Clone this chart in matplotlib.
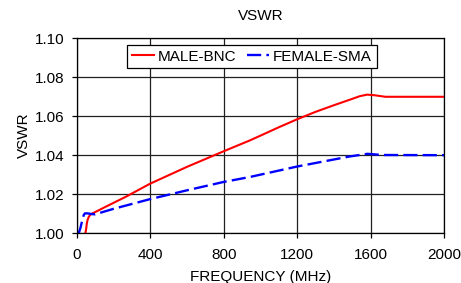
import matplotlib
matplotlib.use("Agg")
import matplotlib.pyplot as plt

plt.rcParams['font.family'] = ['Liberation Sans', 'DejaVu Sans']

bnc_x = [48, 52, 56, 60, 66, 74, 85, 100, 150, 272, 400, 600, 800, 941, 1000, 1100, 1200, 1300, 1400, 1483, 1540, 1580, 1620, 1680, 2000]
bnc_y = [1.000, 1.002, 1.005, 1.0068, 1.0083, 1.0094, 1.0101, 1.0108, 1.0132, 1.0189, 1.0254, 1.0340, 1.0420, 1.0475, 1.0500, 1.0543, 1.0584, 1.0622, 1.0656, 1.0683, 1.0702, 1.0710, 1.0707, 1.0699, 1.0699]
sma_x = [0, 12, 22, 32, 40, 46, 60, 80, 100, 200, 400, 600, 800, 941, 1200, 1483, 1582, 1663, 2000]
sma_y = [1.000, 1.000, 1.003, 1.007, 1.0095, 1.0102, 1.0102, 1.0099, 1.0097, 1.0125, 1.0175, 1.0220, 1.0263, 1.0288, 1.0342, 1.0393, 1.0407, 1.0401, 1.0400]

xticks = [0, 400, 800, 1200, 1600, 2000]
yticks = [1.00, 1.02, 1.04, 1.06, 1.08, 1.10]

fig = plt.figure(figsize=(4.61, 2.83), dpi=100)
ax = fig.add_axes([0.166, 0.1756, 0.7978, 0.6901])
ax.plot(bnc_x, bnc_y, color='#ff0000', lw=1.5, label='MALE-BNC')
ax.plot(sma_x, sma_y, color='#0000ff', lw=1.7, ls=(0, (6, 2.2)), label='FEMALE-SMA')
ax.set_xlim(0, 2000)
ax.set_ylim(1.00, 1.10)
ax.set_xticks(xticks)
ax.set_yticks(yticks)
ax.set_yticklabels([f"{v:.2f}" for v in yticks])
ax.grid(True, color='#202020', lw=0.9)
ax.set_axisbelow(True)
for s in ax.spines.values():
    s.set_color('black')
    s.set_linewidth(0.9)
ax.tick_params(labelsize=11, length=3.6, width=0.9, color='black')
ax.tick_params(axis='x', pad=7)
ax.tick_params(axis='y', pad=5)
ax.set_title('VSWR', fontsize=11, pad=13)
ax.set_xlabel('FREQUENCY (MHz)', fontsize=11, labelpad=5.5)
ax.set_ylabel('VSWR', fontsize=11, labelpad=3)
leg = ax.legend(loc='upper center', ncol=2, fontsize=11, frameon=True, fancybox=False,
                edgecolor='black', framealpha=1, borderpad=0.3, handlelength=1.45,
                columnspacing=0.7, handletextpad=0.25, borderaxespad=0,
                bbox_to_anchor=(0.477, 0.964))
leg.get_frame().set_linewidth(0.9)
fig.savefig('out.png', dpi=100)
